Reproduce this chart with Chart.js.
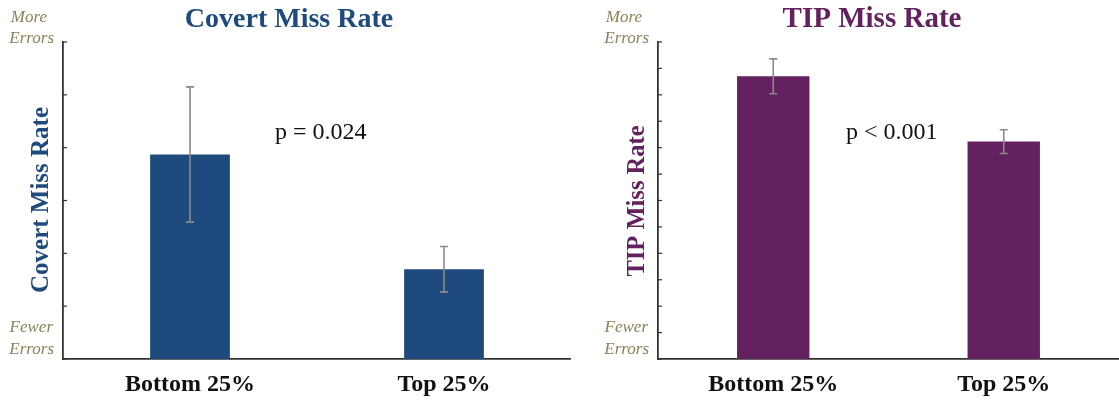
<!DOCTYPE html>
<html><head><meta charset="utf-8">
<script src="https://cdn.jsdelivr.net/npm/chart.js@4.4.1/dist/chart.umd.min.js"></script>
<style>
html,body{margin:0;padding:0;background:#fff;}
#wrap{position:relative;width:1119px;height:401px;overflow:hidden;}
.box{position:absolute;top:0;height:401px;}
</style></head>
<body>
<div id="wrap">
  <div class="box" id="b1" style="left:0;width:571px"><canvas id="c1"></canvas></div>
  <div class="box" id="b2" style="left:575px;width:544px"><canvas id="c2"></canvas></div>
</div>
<script>
const categories = ["Bottom 25%", "Top 25%"];
const covertValues = [3.87, 1.70];
const covertErrors = [1.28, 0.43];
const tipValues = [10.7, 8.23];
const tipErrors = [0.66, 0.45];
const covertTicks = [0, 1, 2, 3, 4, 5, 6];
const tipTicks = [0, 1, 2, 3, 4, 5, 6, 7, 8, 9, 10, 11, 12];

const SERIF = '"Liberation Serif", "DejaVu Serif", serif';
const OLIVE = '#8c8158';

function makePlugin(cfg) {
  return {
    id: 'decor',
    afterDatasetsDraw(chart) {
      const ctx = chart.ctx;
      const xs = chart.scales.x, ys = chart.scales.y;
      const area = chart.chartArea;
      ctx.save();
      // inward tick marks on y axis
      ctx.strokeStyle = '#333';
      ctx.lineWidth = 1.2;
      ys.ticks.forEach(t => {
        const y = ys.getPixelForValue(t.value);
        ctx.beginPath();
        ctx.moveTo(area.left, y);
        ctx.lineTo(area.left + 4, y);
        ctx.stroke();
      });
      // error bars
      const ds = chart.data.datasets[0];
      ctx.strokeStyle = '#8a8a8a';
      ctx.lineWidth = 1.6;
      ds.data.forEach((v, i) => {
        const e = cfg.errors[i];
        const x = xs.getPixelForValue(i);
        const yt = ys.getPixelForValue(v + e);
        const yb = ys.getPixelForValue(v - e);
        ctx.beginPath();
        ctx.moveTo(x, yt); ctx.lineTo(x, yb);
        ctx.moveTo(x - 4, yt); ctx.lineTo(x + 4, yt);
        ctx.moveTo(x - 4, yb); ctx.lineTo(x + 4, yb);
        ctx.stroke();
      });
      // x category labels
      ctx.fillStyle = '#111';
      ctx.font = 'bold 24px ' + SERIF;
      ctx.textAlign = 'center';
      ctx.textBaseline = 'middle';
      chart.data.labels.forEach((lab, i) => {
        ctx.fillText(lab, xs.getPixelForValue(i), 385);
      });
      // title
      ctx.fillStyle = cfg.color;
      ctx.font = 'bold ' + cfg.titleSize + 'px ' + SERIF;
      ctx.fillText(cfg.title, cfg.titleX, 20);
      // rotated axis title
      ctx.save();
      ctx.translate(cfg.axisX, cfg.axisY);
      ctx.rotate(-Math.PI / 2);
      ctx.font = 'bold ' + cfg.axisSize + 'px ' + SERIF;
      ctx.fillText(cfg.title, 0, 0);
      ctx.restore();
      // More / Fewer errors
      ctx.fillStyle = OLIVE;
      ctx.font = 'italic 17px ' + SERIF;
      ctx.textAlign = 'right';
      const rx = area.left - 9;
      ctx.fillText('More', rx - 7, 18);
      ctx.fillText('Errors', rx, 39);
      ctx.fillText('Fewer', rx - 1, 328);
      ctx.fillText('Errors', rx, 350);
      // p value
      ctx.fillStyle = '#111';
      ctx.font = '24px ' + SERIF;
      ctx.textAlign = 'left';
      ctx.fillText(cfg.pText, cfg.pX, 133);
      ctx.restore();
    }
  };
}

function build(canvasId, values, color, tickVals, cfg) {
  return new Chart(document.getElementById(canvasId), {
    type: 'bar',
    data: {
      labels: categories,
      datasets: [{ data: values, backgroundColor: color, borderWidth: 0,
        barPercentage: 0.314, categoryPercentage: 1 }]
    },
    options: {
      responsive: true, maintainAspectRatio: false, animation: false,
      layout: { padding: { left: cfg.padLeft, right: 0, top: 42, bottom: 42 } },
      plugins: { legend: { display: false }, tooltip: { enabled: false } },
      scales: {
        x: {
          ticks: { display: false },
          grid: { display: false, drawTicks: false },
          border: { display: true, color: '#333', width: 1.8 }
        },
        y: {
          min: tickVals[0], max: tickVals[tickVals.length - 1],
          afterBuildTicks: (s) => { s.ticks = tickVals.map(v => ({ value: v })); },
          ticks: { display: false },
          grid: { display: false, drawTicks: false },
          border: { display: true, color: '#333', width: 1.8 }
        }
      }
    },
    plugins: [makePlugin(cfg)]
  });
}

build('c1', covertValues, '#1f4a7e', covertTicks, {
  errors: covertErrors, color: '#1f4a7e', title: 'Covert Miss Rate', titleSize: 28,
  titleX: 289, axisX: 42, axisY: 200, axisSize: 25, pText: 'p = 0.024', pX: 275, padLeft: 63
});
build('c2', tipValues, '#63215f', tipTicks, {
  errors: tipErrors, color: '#63215f', title: 'TIP Miss Rate', titleSize: 29,
  titleX: 872 - 575, axisX: 638 - 575, axisY: 201, axisSize: 24.5, pText: 'p < 0.001', pX: 846 - 575, padLeft: 83
});
</script>
</body></html>
